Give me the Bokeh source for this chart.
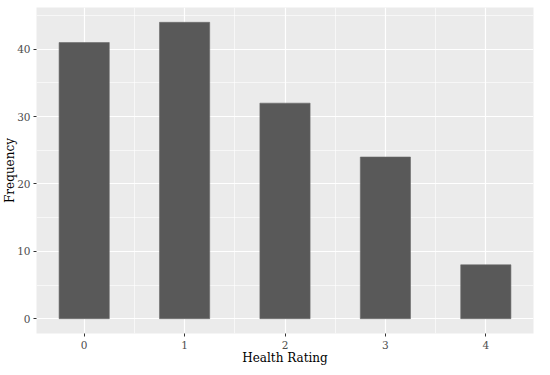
from bokeh.plotting import figure
from bokeh.models import Range1d, FixedTicker
from bokeh.embed import file_html
from bokeh.resources import INLINE

ratings = [0, 1, 2, 3, 4]
freq = [41, 44, 32, 24, 8]
x_ticks = [0, 1, 2, 3, 4]
x_minor = [0.5, 1.5, 2.5, 3.5]
y_ticks = [0, 10, 20, 30, 40]
y_minor = [5, 15, 25, 35, 45]

FONT = "DejaVu Serif"

p = figure(width=534, height=367, output_backend="svg", toolbar_location=None,
           x_range=Range1d(-0.475, 4.475), y_range=Range1d(-2.2, 46.2),
           min_border_left=0, min_border_right=1, min_border_top=7,
           min_border_bottom=0)

p.vbar(x=ratings, top=freq, bottom=0, width=0.5, fill_color="#595959",
       line_color="#6a6a6a", line_width=0.6)

p.background_fill_color = "#EBEBEB"
p.border_fill_color = "white"
p.outline_line_color = None

p.xaxis.ticker = FixedTicker(ticks=x_ticks, minor_ticks=x_minor)
p.yaxis.ticker = FixedTicker(ticks=y_ticks, minor_ticks=y_minor)

for g in (p.xgrid, p.ygrid):
    g.grid_line_color = "white"
    g.grid_line_width = 1.2
    g.minor_grid_line_color = "white"
    g.minor_grid_line_width = 0.6

for ax in (p.xaxis, p.yaxis):
    ax.axis_line_color = None
    ax.major_tick_line_color = "#333333"
    ax.major_tick_out = 3
    ax.major_tick_in = 0
    ax.minor_tick_line_color = None
    ax.major_label_text_font = FONT
    ax.major_label_text_font_size = "10.5px"
    ax.major_label_text_color = "#4D4D4D"
    ax.major_label_standoff = 2
    ax.axis_label_text_font = FONT
    ax.axis_label_text_font_size = "12px"
    ax.axis_label_text_font_style = "normal"
    ax.axis_label_text_color = "black"

p.xaxis.major_label_standoff = 3
p.xaxis.axis_label_standoff = -1
p.xaxis.axis_label_text_line_height = 1.0
p.yaxis.axis_label_standoff = -3

p.xaxis.axis_label = "Health Rating"
p.yaxis.axis_label = "Frequency"

open("out.html", "w").write(file_html(p, INLINE))
